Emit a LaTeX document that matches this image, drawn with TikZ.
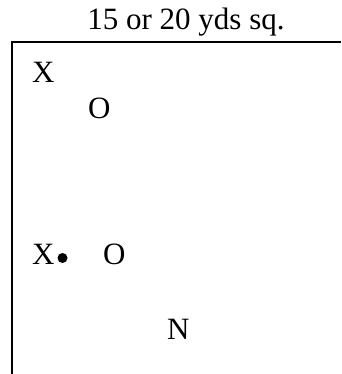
\documentclass[tikz,border=0pt]{standalone}
\usepackage{fontspec}
\setmainfont{Liberation Serif}
\tikzset{
  player/.style={anchor=base west,inner sep=0pt,font=\fontsize{31}{37}\selectfont},
  ball/.style={circle,fill,inner sep=0pt,minimum size=10pt},
}
\begin{document}
\begin{tikzpicture}[x=1pt,y=-1pt]
\useasboundingbox (0,0) rectangle (341,374);

\node[player,anchor=base] (title) at (186,30) {15 or 20 yds sq.};

\draw[line width=1.7pt] (12,374) -- (12,42) -- (341,42);

\node[player] (x1) at (32,83) {X};
\node[player] (o1) at (88,119) {O};
\node[player] (x2) at (32,264) {X};
\node[ball] (b) at (62.5,258) {};
\node[player] (o2) at (103,264) {O};
\node[player] (n) at (167,339) {N};
\end{tikzpicture}
\end{document}
